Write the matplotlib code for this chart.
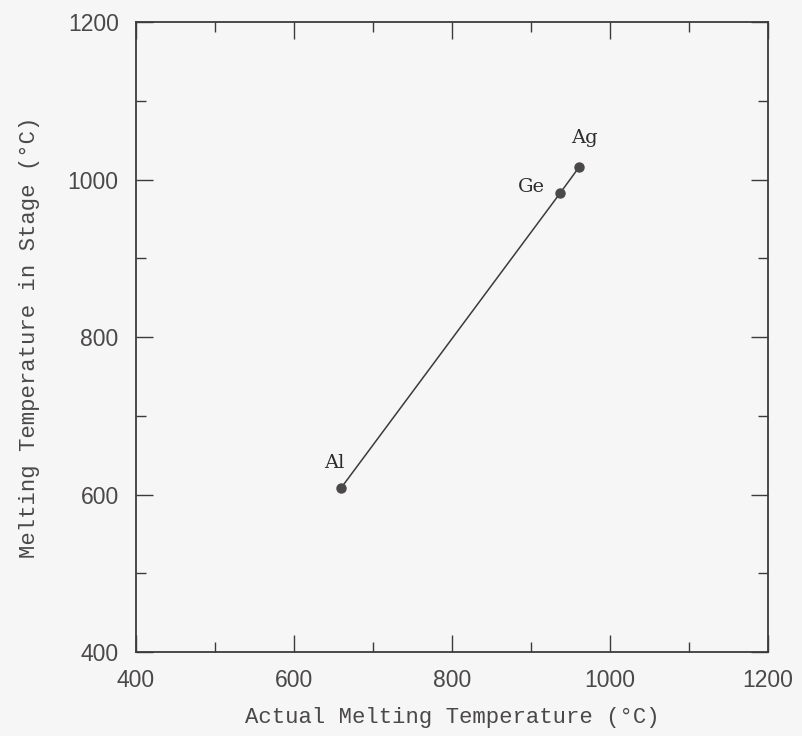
import matplotlib
matplotlib.use("Agg")
import matplotlib.pyplot as plt
from matplotlib.ticker import MultipleLocator

elements = ["Al", "Ge", "Ag"]
actual_temp = [660, 937, 961]
stage_temp = [609, 983, 1016]
label_offsets_px = [(-7, 25), (-29, 6), (5, 29)]

bg = "#f7f6f6"
ink = "#3c3a3a"

fig = plt.figure(figsize=(8.03, 7.36), dpi=100, facecolor=bg)
ax = fig.add_axes([0.1694, 0.114, 0.7870, 0.856])
ax.set_facecolor(bg)

ax.plot(actual_temp, stage_temp, color=ink, lw=1.1, marker='o', ms=6.5,
        mfc="#4a4848", mec="#4a4848")

for name, x, y, (dx, dy) in zip(elements, actual_temp, stage_temp, label_offsets_px):
    ax.annotate(name, (x, y), xytext=(dx * 0.72, dy * 0.72), textcoords='offset points',
                ha='center', va='center', fontsize=14, color="#2e2c2c",
                family='DejaVu Serif')

ax.set_xlim(400, 1200)
ax.set_ylim(400, 1200)
ax.xaxis.set_major_locator(MultipleLocator(200))
ax.xaxis.set_minor_locator(MultipleLocator(100))
ax.yaxis.set_major_locator(MultipleLocator(200))
ax.yaxis.set_minor_locator(MultipleLocator(100))
ax.tick_params(which='both', direction='in', top=True, right=True, color=ink,
               labelcolor="#4a4848", width=1)
ax.tick_params(which='major', length=12)
ax.tick_params(which='minor', length=7)
ax.tick_params(axis='x', which='major', pad=12)
ax.tick_params(axis='y', which='major', pad=12.5)
for lab in ax.get_xticklabels() + ax.get_yticklabels():
    lab.set_fontfamily('Liberation Sans')
    lab.set_fontsize(16.5)
for s in ax.spines.values():
    s.set_color(ink)
    s.set_linewidth(1.3)

ax.set_xlabel("Actual Melting Temperature (°C)", fontsize=16, color="#4a4848",
              family='Liberation Mono', labelpad=11)
ax.set_ylabel("Melting Temperature in Stage (°C)", fontsize=16, color="#4a4848",
              family='Liberation Mono', labelpad=20)

fig.savefig("out.png", dpi=100, facecolor=bg)
